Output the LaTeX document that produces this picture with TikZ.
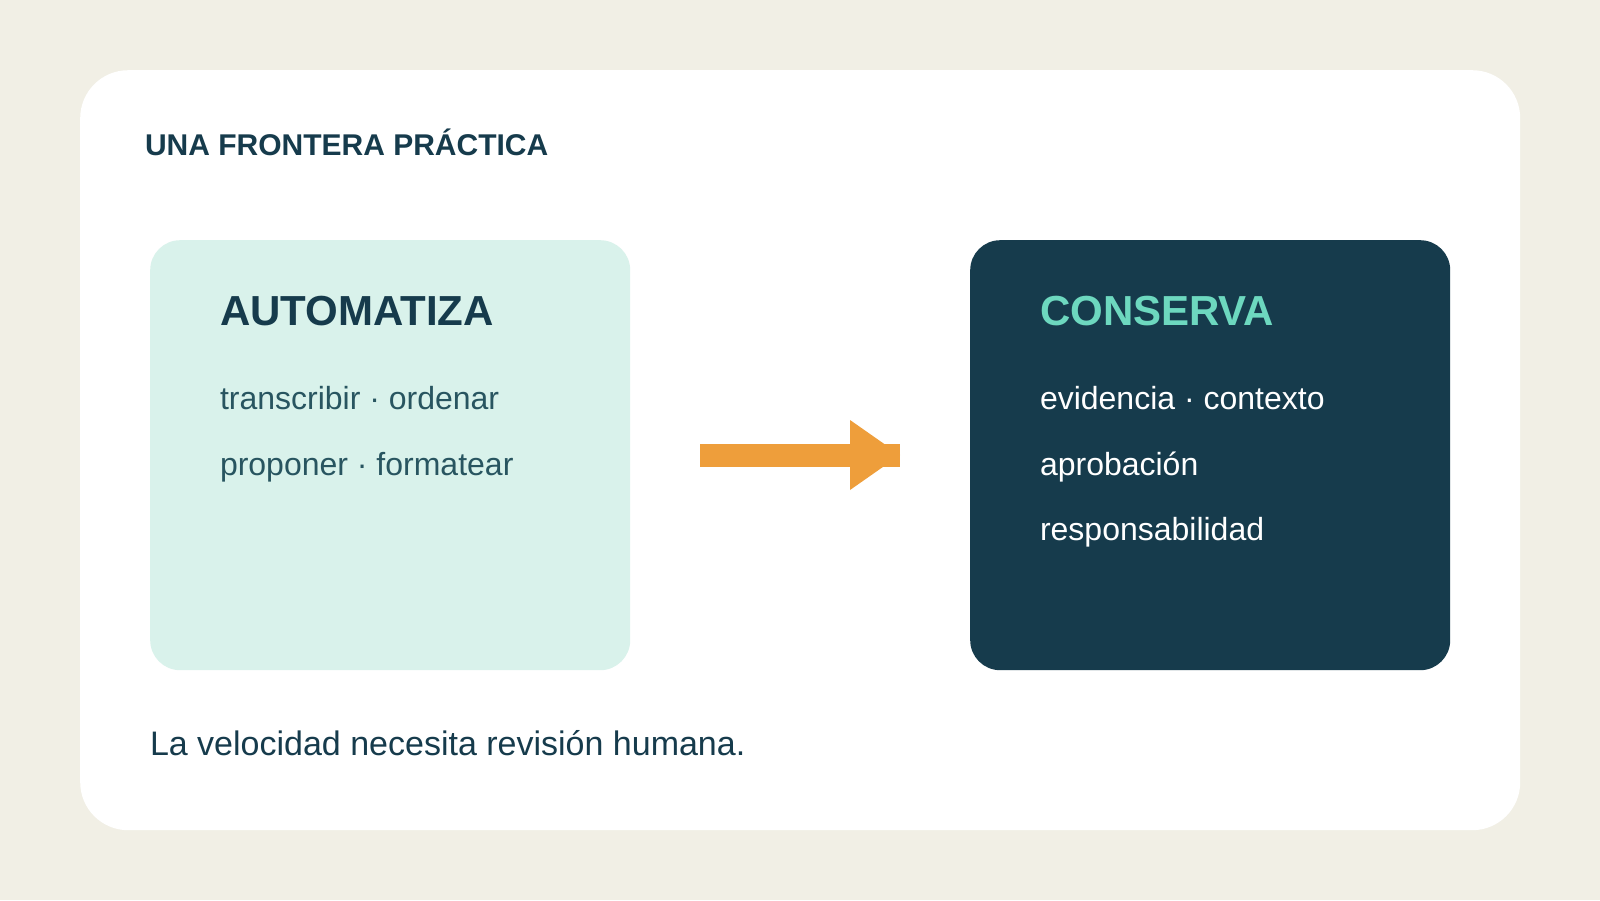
\documentclass[tikz,border=0pt]{standalone}
\usepackage{fontspec}
\setmainfont{Liberation Sans}
\definecolor{bgc}{HTML}{F1EFE5}
\definecolor{minty}{HTML}{D9F2EB}
\definecolor{navy}{HTML}{163B4C}
\definecolor{mintt}{HTML}{6DD8BF}
\definecolor{orng}{HTML}{EE9E3B}
\definecolor{darkt}{HTML}{163B4C}
\definecolor{softt}{HTML}{285560}
\tikzset{
  txt/.style={anchor=base west, inner sep=0pt, outer sep=0pt},
  boxlight/.style={anchor=north west, fill=minty, rounded corners=30pt, minimum width=480pt, minimum height=430pt, inner sep=0pt},
  boxdark/.style={anchor=north west, fill=navy, rounded corners=30pt, minimum width=480pt, minimum height=430pt, inner sep=0pt},
  head/.style={txt, font=\fontsize{42pt}{50pt}\selectfont\bfseries},
  item/.style={txt, font=\fontsize{32pt}{38pt}\selectfont},
}
\begin{document}
\begin{tikzpicture}[x=1pt,y=-1pt]
\fill[bgc] (0,0) rectangle (1600,900);
\useasboundingbox (0,0) rectangle (1600,900);
\node[anchor=north west, fill=white, rounded corners=48pt, minimum width=1440pt, minimum height=760pt, inner sep=0pt] (card) at (80,70) {};
\node[txt, text=darkt, font=\fontsize{30pt}{36pt}\selectfont\bfseries] (title) at (145,155) {UNA FRONTERA PRÁCTICA};
\node[boxlight] (left) at (150,240) {};
\node[boxdark] (right) at (970,240) {};
\node[head, text=darkt] (lh) at (220,325) {AUTOMATIZA};
\node[item, text=softt] (l1) at (220,409) {transcribir · ordenar};
\node[item, text=softt] (l2) at (220,475) {proponer · formatear};
\node[head, text=mintt] (rh) at (1040,325) {CONSERVA};
\node[item, text=white] (r1) at (1040,409) {evidencia · contexto};
\node[item, text=white] (r2) at (1040,475) {aprobación};
\node[item, text=white] (r3) at (1040,540) {responsabilidad};
\node[txt, text=darkt, font=\fontsize{34pt}{40pt}\selectfont] (foot) at (150,755) {La velocidad necesita revisión humana.};
\coordinate (as) at (700,455);
\coordinate (ae) at (900,455);
\draw[orng, line width=23pt] (as) -- (ae);
\fill[orng] (850,420) -- (ae) -- (850,490) -- cycle;
\end{tikzpicture}
\end{document}
